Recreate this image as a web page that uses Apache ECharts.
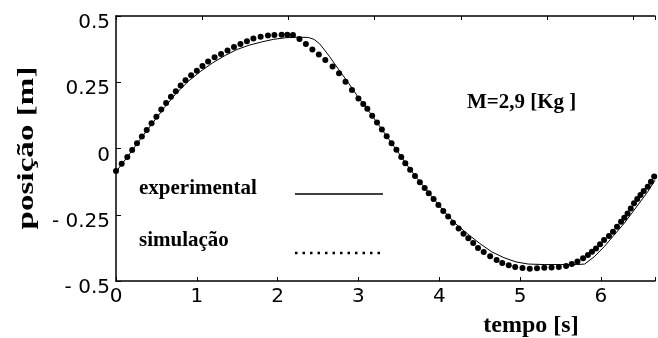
<!DOCTYPE html>
<html>
<head>
<meta charset="utf-8">
<script src="https://cdn.jsdelivr.net/npm/echarts@6/dist/echarts.min.js"></script>
<style>
  html, body { margin: 0; padding: 0; background: #fff; }
  #chart { width: 658px; height: 338px; }
</style>
</head>
<body>
<div id="chart"></div>
<script>
// ===== data =====
// experimental: solid line
const expTime = [0.00, 0.15, 0.30, 0.45, 0.60, 0.75, 0.90, 1.05, 1.20, 1.35, 1.50, 1.65, 1.80, 1.95,
  2.10, 2.25, 2.38, 2.45, 2.52, 2.58, 2.64, 2.70, 2.76, 2.88, 3.00, 3.15, 3.30, 3.45, 3.60, 3.75,
  3.90, 4.05, 4.20, 4.35, 4.50, 4.65, 4.80, 4.95, 5.10, 5.30, 5.50, 5.70, 5.80, 5.92, 6.04, 6.16,
  6.29, 6.43, 6.58, 6.67]
const expPos = [-0.088, -0.028, 0.035, 0.095, 0.155, 0.210, 0.255, 0.292, 0.324, 0.351, 0.374, 0.390, 0.402, 0.412,
  0.418, 0.420, 0.419, 0.412, 0.395, 0.372, 0.348, 0.322, 0.296, 0.246, 0.192, 0.132, 0.068, 0.004, -0.062, -0.122,
  -0.178, -0.234, -0.283, -0.322, -0.358, -0.390, -0.412, -0.428, -0.436, -0.438, -0.438, -0.438, -0.436, -0.408, -0.371, -0.328,
  -0.282, -0.225, -0.163, -0.120]

// simulação: dotted
const simTime = [0.00, 0.07, 0.14, 0.20, 0.26, 0.32, 0.38, 0.44, 0.50, 0.56, 0.62, 0.68, 0.74, 0.80, 0.86, 0.93,
  1.00, 1.07, 1.14, 1.22, 1.30, 1.38, 1.46, 1.54, 1.62, 1.70, 1.79, 1.88, 1.96, 2.05, 2.12, 2.19,
  2.27, 2.35, 2.43, 2.51, 2.59, 2.68, 2.76, 2.84, 2.92, 3.00, 3.06, 3.11, 3.17, 3.23, 3.29, 3.35,
  3.41, 3.47, 3.53, 3.58, 3.64, 3.70, 3.76, 3.82, 3.87, 3.93, 3.99, 4.05, 4.11, 4.17, 4.24, 4.30,
  4.36, 4.42, 4.48, 4.55, 4.63, 4.71, 4.78, 4.86, 4.94, 5.03, 5.12, 5.21, 5.30, 5.39, 5.48, 5.57,
  5.64, 5.71, 5.78, 5.84, 5.89, 5.94, 5.99, 6.04, 6.10, 6.15, 6.20, 6.25, 6.29, 6.33, 6.37, 6.41,
  6.45, 6.49, 6.53, 6.58, 6.62, 6.66]
const simPos = [-0.085, -0.058, -0.032, -0.006, 0.020, 0.045, 0.070, 0.095, 0.120, 0.147, 0.172, 0.195, 0.216, 0.238, 0.258, 0.276,
  0.293, 0.311, 0.328, 0.344, 0.357, 0.370, 0.383, 0.394, 0.405, 0.415, 0.422, 0.426, 0.428, 0.429, 0.429, 0.428,
  0.413, 0.394, 0.374, 0.355, 0.334, 0.309, 0.284, 0.252, 0.221, 0.189, 0.168, 0.150, 0.124, 0.098, 0.072, 0.046,
  0.020, -0.005, -0.032, -0.056, -0.080, -0.104, -0.127, -0.149, -0.169, -0.191, -0.213, -0.236, -0.257, -0.280, -0.302, -0.322,
  -0.339, -0.357, -0.375, -0.391, -0.407, -0.421, -0.432, -0.441, -0.447, -0.451, -0.454, -0.452, -0.450, -0.449, -0.447, -0.443,
  -0.436, -0.426, -0.414, -0.402, -0.390, -0.377, -0.361, -0.345, -0.330, -0.314, -0.295, -0.276, -0.261, -0.245, -0.226, -0.207,
  -0.191, -0.175, -0.160, -0.144, -0.125, -0.106]

const xTickLabels = ['0', '1', '2', '3', '4', '5', '6']
const yTickValues = [-0.5, -0.25, 0, 0.25, 0.5]
const yTickLabels = ['- 0.5', '- 0.25', '0', '0.25', '0.5']

const seriesNames = ['experimental', 'simulação']
const massNote = 'M=2,9 [Kg ]'
const xTitle = 'tempo [s]'
const yTitle = 'posição [m]'

// ===== helpers =====
const toPairs = (xs, ys) => xs.map((x, i) => [x, ys[i]])
const serif = '"Liberation Serif", "Times New Roman", serif'
const sans = '"DejaVu Sans", "Liberation Sans", Arial, sans-serif'

function yLabel(v) {
  const i = yTickValues.findIndex(t => Math.abs(t - v) < 1e-9)
  return i < 0 ? '' : yTickLabels[i]
}
function xLabel(v) {
  return Number.isInteger(v) && xTickLabels[v] !== undefined ? xTickLabels[v] : ''
}

// frame edges stay on the grid border, not on zero
const axisLine = { onZero: false, lineStyle: { color: '#000', width: 1.5 } }

const chart = echarts.init(document.getElementById('chart'), null, { renderer: 'canvas' })
chart.setOption({
  animation: false,
  backgroundColor: '#fff',
  grid: { left: 116, top: 16, right: 0, bottom: 57 },
  xAxis: [
    {
      type: 'value', min: 0, max: 6.67, interval: 1,
      axisLine,
      axisTick: { inside: true, length: 4, lineStyle: { color: '#000', width: 1 } },
      axisLabel: { formatter: xLabel, color: '#000', fontFamily: sans, fontSize: 20, margin: 6 },
      splitLine: { show: false },
    },
    {
      // top frame edge, own tick spacing
      type: 'value', position: 'top', min: 0, max: 6.25, interval: 1,
      axisLine,
      axisTick: { inside: true, length: 4, lineStyle: { color: '#000', width: 1 } },
      axisLabel: { show: false },
      splitLine: { show: false },
    },
  ],
  yAxis: {
    type: 'value', min: -0.5, max: 0.5, interval: 0.25,
    axisLine,
    axisTick: { inside: true, length: 5, lineStyle: { color: '#000', width: 1 } },
    axisLabel: {
      formatter: yLabel, color: '#000', fontFamily: sans, fontSize: 20, margin: 6,
      verticalAlign: 'top', lineHeight: 14,
    },
    splitLine: { show: false },
  },
  series: [
    {
      name: seriesNames[0],
      type: 'line',
      data: toPairs(expTime, expPos),
      symbol: 'none',
      lineStyle: { color: '#000', width: 1 },
      z: 2,
    },
    {
      name: seriesNames[1],
      type: 'scatter',
      data: toPairs(simTime, simPos),
      symbol: 'circle',
      symbolSize: 6,
      itemStyle: { color: '#000', opacity: 1 },
      z: 3,
    },
  ],
  graphic: [
    {
      type: 'text', x: 27, y: 148, rotation: Math.PI / 2, scaleX: 1.38,
      style: { text: yTitle, font: 'bold 24px ' + serif, fill: '#000', align: 'center', verticalAlign: 'middle' },
    },
    {
      type: 'text', x: 531, y: 326,
      style: { text: xTitle, font: 'bold 24px ' + serif, fill: '#000', align: 'center', verticalAlign: 'middle' },
    },
    {
      type: 'text', x: 467, y: 103,
      style: { text: massNote, font: 'bold 21px ' + serif, fill: '#000', align: 'left', verticalAlign: 'middle' },
    },
    {
      type: 'text', x: 139, y: 189,
      style: { text: seriesNames[0], font: 'bold 21px ' + serif, fill: '#000', align: 'left', verticalAlign: 'middle' },
    },
    {
      type: 'text', x: 139, y: 241,
      style: { text: seriesNames[1], font: 'bold 21px ' + serif, fill: '#000', align: 'left', verticalAlign: 'middle' },
    },
    {
      type: 'line', shape: { x1: 295, y1: 194, x2: 383, y2: 194 },
      style: { stroke: '#000', lineWidth: 1.5 },
    },
    {
      type: 'line', shape: { x1: 295, y1: 253, x2: 384, y2: 253 },
      style: { stroke: '#000', lineWidth: 2.5, lineDash: [2.5, 5] },
    },
  ],
})
</script>
</body>
</html>
